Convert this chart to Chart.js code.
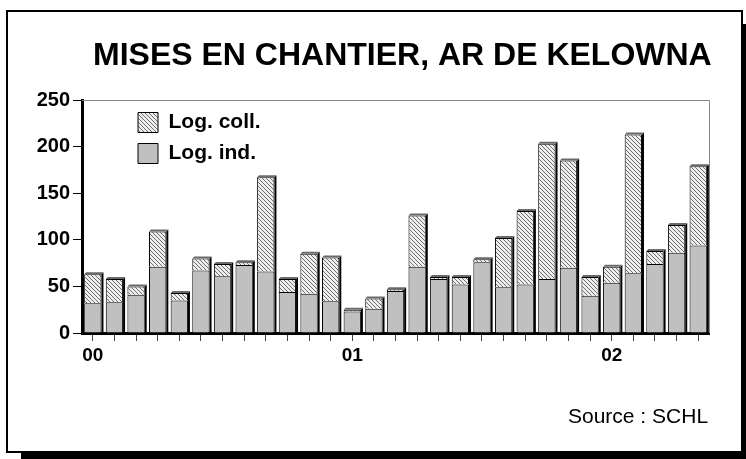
<!DOCTYPE html>
<html>
<head>
<meta charset="utf-8">
<script src="https://cdn.jsdelivr.net/npm/chart.js@4"></script>
<style>
  html, body { margin: 0; padding: 0; background: #fff; }
  #chart { display: block; }
</style>
</head>
<body>
<canvas id="chart" width="746" height="459"></canvas>
<script>
// mois de janv. 2000 a mai 2002
const mois = ['2000-01','2000-02','2000-03','2000-04','2000-05','2000-06','2000-07','2000-08','2000-09','2000-10','2000-11','2000-12',
              '2001-01','2001-02','2001-03','2001-04','2001-05','2001-06','2001-07','2001-08','2001-09','2001-10','2001-11','2001-12',
              '2002-01','2002-02','2002-03','2002-04','2002-05'];
const logInd  = [32, 33, 41, 71, 35, 67, 61, 73, 66, 44, 42, 34, 23, 26, 45, 71, 58, 52, 76, 49, 52, 58, 70, 40, 54, 64, 74, 86, 94];
const logColl = [31, 25,  9, 38,  8, 13, 13,  3,101, 14, 43, 47,  2, 11,  2, 55,  2,  8,  3, 53, 79,145,115, 20, 17,149, 14, 30, 85];
const etiquettesAnnees = { 0: '00', 12: '01', 24: '02' };
const yTicks = [0, 50, 100, 150, 200, 250];

function hachures() {
  const c = document.createElement('canvas');
  c.width = 4; c.height = 4;
  const g = c.getContext('2d');
  g.fillStyle = '#eeeeee';
  g.fillRect(0, 0, 4, 4);
  g.fillStyle = '#6e6e6e';
  for (let i = 0; i < 4; i++) g.fillRect(i, i, 1, 1);
  return g.createPattern(c, 'repeat');
}
const motif = hachures();

const cadre = {
  id: 'cadre',
  beforeDraw(chart) {
    const ctx = chart.ctx;
    ctx.save();
    ctx.fillStyle = '#fff';
    ctx.fillRect(0, 0, chart.width, chart.height);
    ctx.fillStyle = '#000';
    ctx.fillRect(21, 24, 740, 440);
    ctx.fillStyle = '#fff';
    ctx.fillRect(7, 11, 735, 441);
    ctx.lineWidth = 2;
    ctx.strokeStyle = '#000';
    ctx.strokeRect(7, 11, 735, 441);
    ctx.restore();
  },
  beforeDatasetsDraw(chart) {
    const {ctx, chartArea: a} = chart;
    ctx.save();
    ctx.strokeStyle = '#888';
    ctx.lineWidth = 1;
    ctx.beginPath();
    ctx.moveTo(a.left, a.top + 0.5);
    ctx.lineTo(a.right + 0.5, a.top + 0.5);
    ctx.lineTo(a.right + 0.5, a.bottom);
    ctx.stroke();
    ctx.restore();
  },
  afterDatasetsDraw(chart) {
    // petit effet 3D : flanc droit noir et dessus gris
    const ctx = chart.ctx;
    const bas = chart.getDatasetMeta(0).data;
    const haut = chart.getDatasetMeta(1).data;
    ctx.save();
    haut.forEach((b, i) => {
      const g = b.x - b.width / 2, d = b.x + b.width / 2;
      const top = Math.min(b.y, bas[i].y);
      const base = bas[i].base;
      ctx.fillStyle = '#000';
      ctx.beginPath();
      ctx.moveTo(d, top); ctx.lineTo(d + 2, top - 2); ctx.lineTo(d + 2, base); ctx.lineTo(d, base);
      ctx.closePath(); ctx.fill();
      ctx.fillStyle = '#6a6a6a';
      ctx.beginPath();
      ctx.moveTo(g, top); ctx.lineTo(g + 2, top - 2); ctx.lineTo(d + 2, top - 2); ctx.lineTo(d, top);
      ctx.closePath(); ctx.fill();
    });
    ctx.restore();
  },
  afterLayout(chart) {
    const a = chart.chartArea;
    if (chart.legend) { chart.legend.left = a.left + 46; chart.legend.top = a.top + 2; }
  },
  afterDraw(chart) {
    const ctx = chart.ctx;
    ctx.save();
    ctx.fillStyle = '#000';
    ctx.textBaseline = 'alphabetic';
    ctx.textAlign = 'left';
    ctx.font = 'bold 32px "Liberation Sans", Arial, sans-serif';
    ctx.fillText('MISES EN CHANTIER, AR DE KELOWNA', 93, 65);
    ctx.font = '21px "Liberation Sans", Arial, sans-serif';
    ctx.fillText('Source : SCHL', 568, 423);
    ctx.restore();
  }
};

new Chart(document.getElementById('chart'), {
  type: 'bar',
  data: {
    labels: mois,
    datasets: [
      { label: 'Log. ind.', data: logInd, backgroundColor: '#c0c0c0', borderColor: '#000', borderWidth: 1 },
      { label: 'Log. coll.', data: logColl, backgroundColor: motif, borderColor: '#000', borderWidth: 1 }
    ]
  },
  options: {
    responsive: false,
    animation: false,
    devicePixelRatio: 1,
    layout: { padding: { top: 100, right: 37, left: 0, bottom: 0 } },
    datasets: { bar: { barPercentage: 0.8, categoryPercentage: 1 } },
    plugins: {
      legend: {
        position: 'chartArea',
        align: 'start',
        reverse: true,
        labels: {
          boxWidth: 20, boxHeight: 20, padding: 10, color: '#000',
          font: { family: '"Liberation Sans", Arial, sans-serif', size: 21, weight: 'bold' }
        }
      },
      title: { display: false },
      tooltip: { enabled: false }
    },
    scales: {
      x: {
        stacked: true,
        afterFit(s) { s.height = 126; },
        border: { display: true, color: '#000', width: 3 },
        grid: { drawOnChartArea: false, drawTicks: true, tickLength: 8, offset: false, color: '#444' },
        ticks: {
          autoSkip: false, maxRotation: 0, padding: 3, color: '#000',
          font: { family: '"Liberation Sans", Arial, sans-serif', size: 19, weight: 'bold' },
          callback: (v, i) => etiquettesAnnees[i] || ''
        }
      },
      y: {
        stacked: true,
        min: 0, max: 250,
        afterFit(s) { s.width = 82; },
        afterBuildTicks(s) { s.ticks = yTicks.map(v => ({ value: v })); },
        border: { display: true, color: '#000', width: 3 },
        grid: { drawOnChartArea: false, drawTicks: true, tickLength: 9, color: '#000' },
        ticks: {
          padding: 3, color: '#000',
          font: { family: '"Liberation Sans", Arial, sans-serif', size: 20, weight: 'bold' }
        }
      }
    }
  },
  plugins: [cadre]
});
</script>
</body>
</html>
